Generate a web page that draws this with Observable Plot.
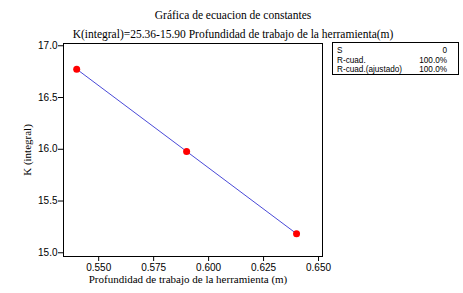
<!DOCTYPE html>
<html>
<head>
<meta charset="utf-8">
<script src="https://cdn.jsdelivr.net/npm/d3@7"></script>
<script src="https://cdn.jsdelivr.net/npm/@observablehq/plot@0.6"></script>
<style>
  html, body { margin: 0; padding: 0; background: #fff; }
  #wrap { position: relative; width: 463px; height: 293px; }
  #legend {
    position: absolute; left: 332px; top: 42px; width: 127px; height: 33px;
    border: 1px solid #000; box-sizing: border-box;
    font-family: "Liberation Sans", Arial, sans-serif; font-size: 8.2px; color: #000;
    padding: 3px 11px 0 4px; line-height: 9.5px; white-space: nowrap;
  }
  #legend .row { display: flex; justify-content: space-between; }
</style>
</head>
<body>
<div id="wrap"></div>
<script>
const title1 = "Gráfica de ecuacion de constantes";
const title2 = "K(integral)=25.36-15.90 Profundidad de trabajo de la herramienta(m)";
const xLabel = "Profundidad de trabajo de la herramienta (m)";
const yLabel = "K (integral)";

const depth = [0.54, 0.59, 0.64];
const kIntegral = [16.774, 15.979, 15.184];

const fitDepth = [0.54, 0.64];
const fitK = [16.774, 15.184];

const xTicks = [0.55, 0.575, 0.6, 0.625, 0.65];
const yTicks = [15.0, 15.5, 16.0, 16.5, 17.0];

const statNames = ["S", "R-cuad.", "R-cuad.(ajustado)"];
const statValues = ["0", "100.0%", "100.0%"];

const points = depth.map((d, i) => ({x: d, y: kIntegral[i]}));
const fit = fitDepth.map((d, i) => ({x: d, y: fitK[i]}));

const serif = '"Liberation Serif", "Times New Roman", serif';

const chart = Plot.plot({
  width: 463,
  height: 293,
  marginLeft: 63,
  marginRight: 141,
  marginTop: 43,
  marginBottom: 37,
  style: {fontFamily: '"Liberation Sans", Arial, sans-serif', fontSize: "10px", color: "#000", background: "#fff", overflow: "visible"},
  x: {domain: [0.534, 0.6518], ticks: xTicks, tickFormat: d3.format(".3f")},
  y: {domain: [14.964, 17.022], ticks: yTicks, tickFormat: d3.format(".1f")},
  marks: [
    Plot.frame({stroke: "#000", strokeWidth: 1}),
    Plot.axisX({ticks: xTicks, tickFormat: d3.format(".3f"), tickSize: 5, tickPadding: 2, label: null}),
    Plot.axisY({ticks: yTicks, tickFormat: d3.format(".1f"), tickSize: 5, tickPadding: 1, label: null}),
    Plot.line(fit, {x: "x", y: "y", stroke: "#4a4ad8", strokeWidth: 1}),
    Plot.dot(points, {x: "x", y: "y", r: 3.5, fill: "#ff0000", stroke: "none"}),
    Plot.text([title1], {frameAnchor: "top", dy: -33, fontFamily: serif, fontSize: 11.5, text: d => d, textAnchor: "middle", dx: 40}),
    Plot.text([title2], {frameAnchor: "top", dy: -14, fontFamily: serif, fontSize: 11.5, text: d => d, textAnchor: "middle", dx: 40}),
    Plot.text([xLabel], {frameAnchor: "bottom", dy: 26, fontFamily: serif, fontSize: 11, text: d => d, textAnchor: "middle", dx: -5}),
    Plot.text([yLabel], {frameAnchor: "left", dx: -36, fontFamily: serif, fontSize: 11, text: d => d, rotate: -90, textAnchor: "middle"})
  ]
});

const wrap = document.getElementById("wrap");
wrap.appendChild(chart);
const legend = document.createElement("div");
legend.id = "legend";
statNames.forEach((n, i) => {
  const row = document.createElement("div");
  row.className = "row";
  const a = document.createElement("span"); a.textContent = n;
  const b = document.createElement("span"); b.textContent = statValues[i];
  row.appendChild(a); row.appendChild(b);
  legend.appendChild(row);
});
wrap.appendChild(legend);
</script>
</body>
</html>
